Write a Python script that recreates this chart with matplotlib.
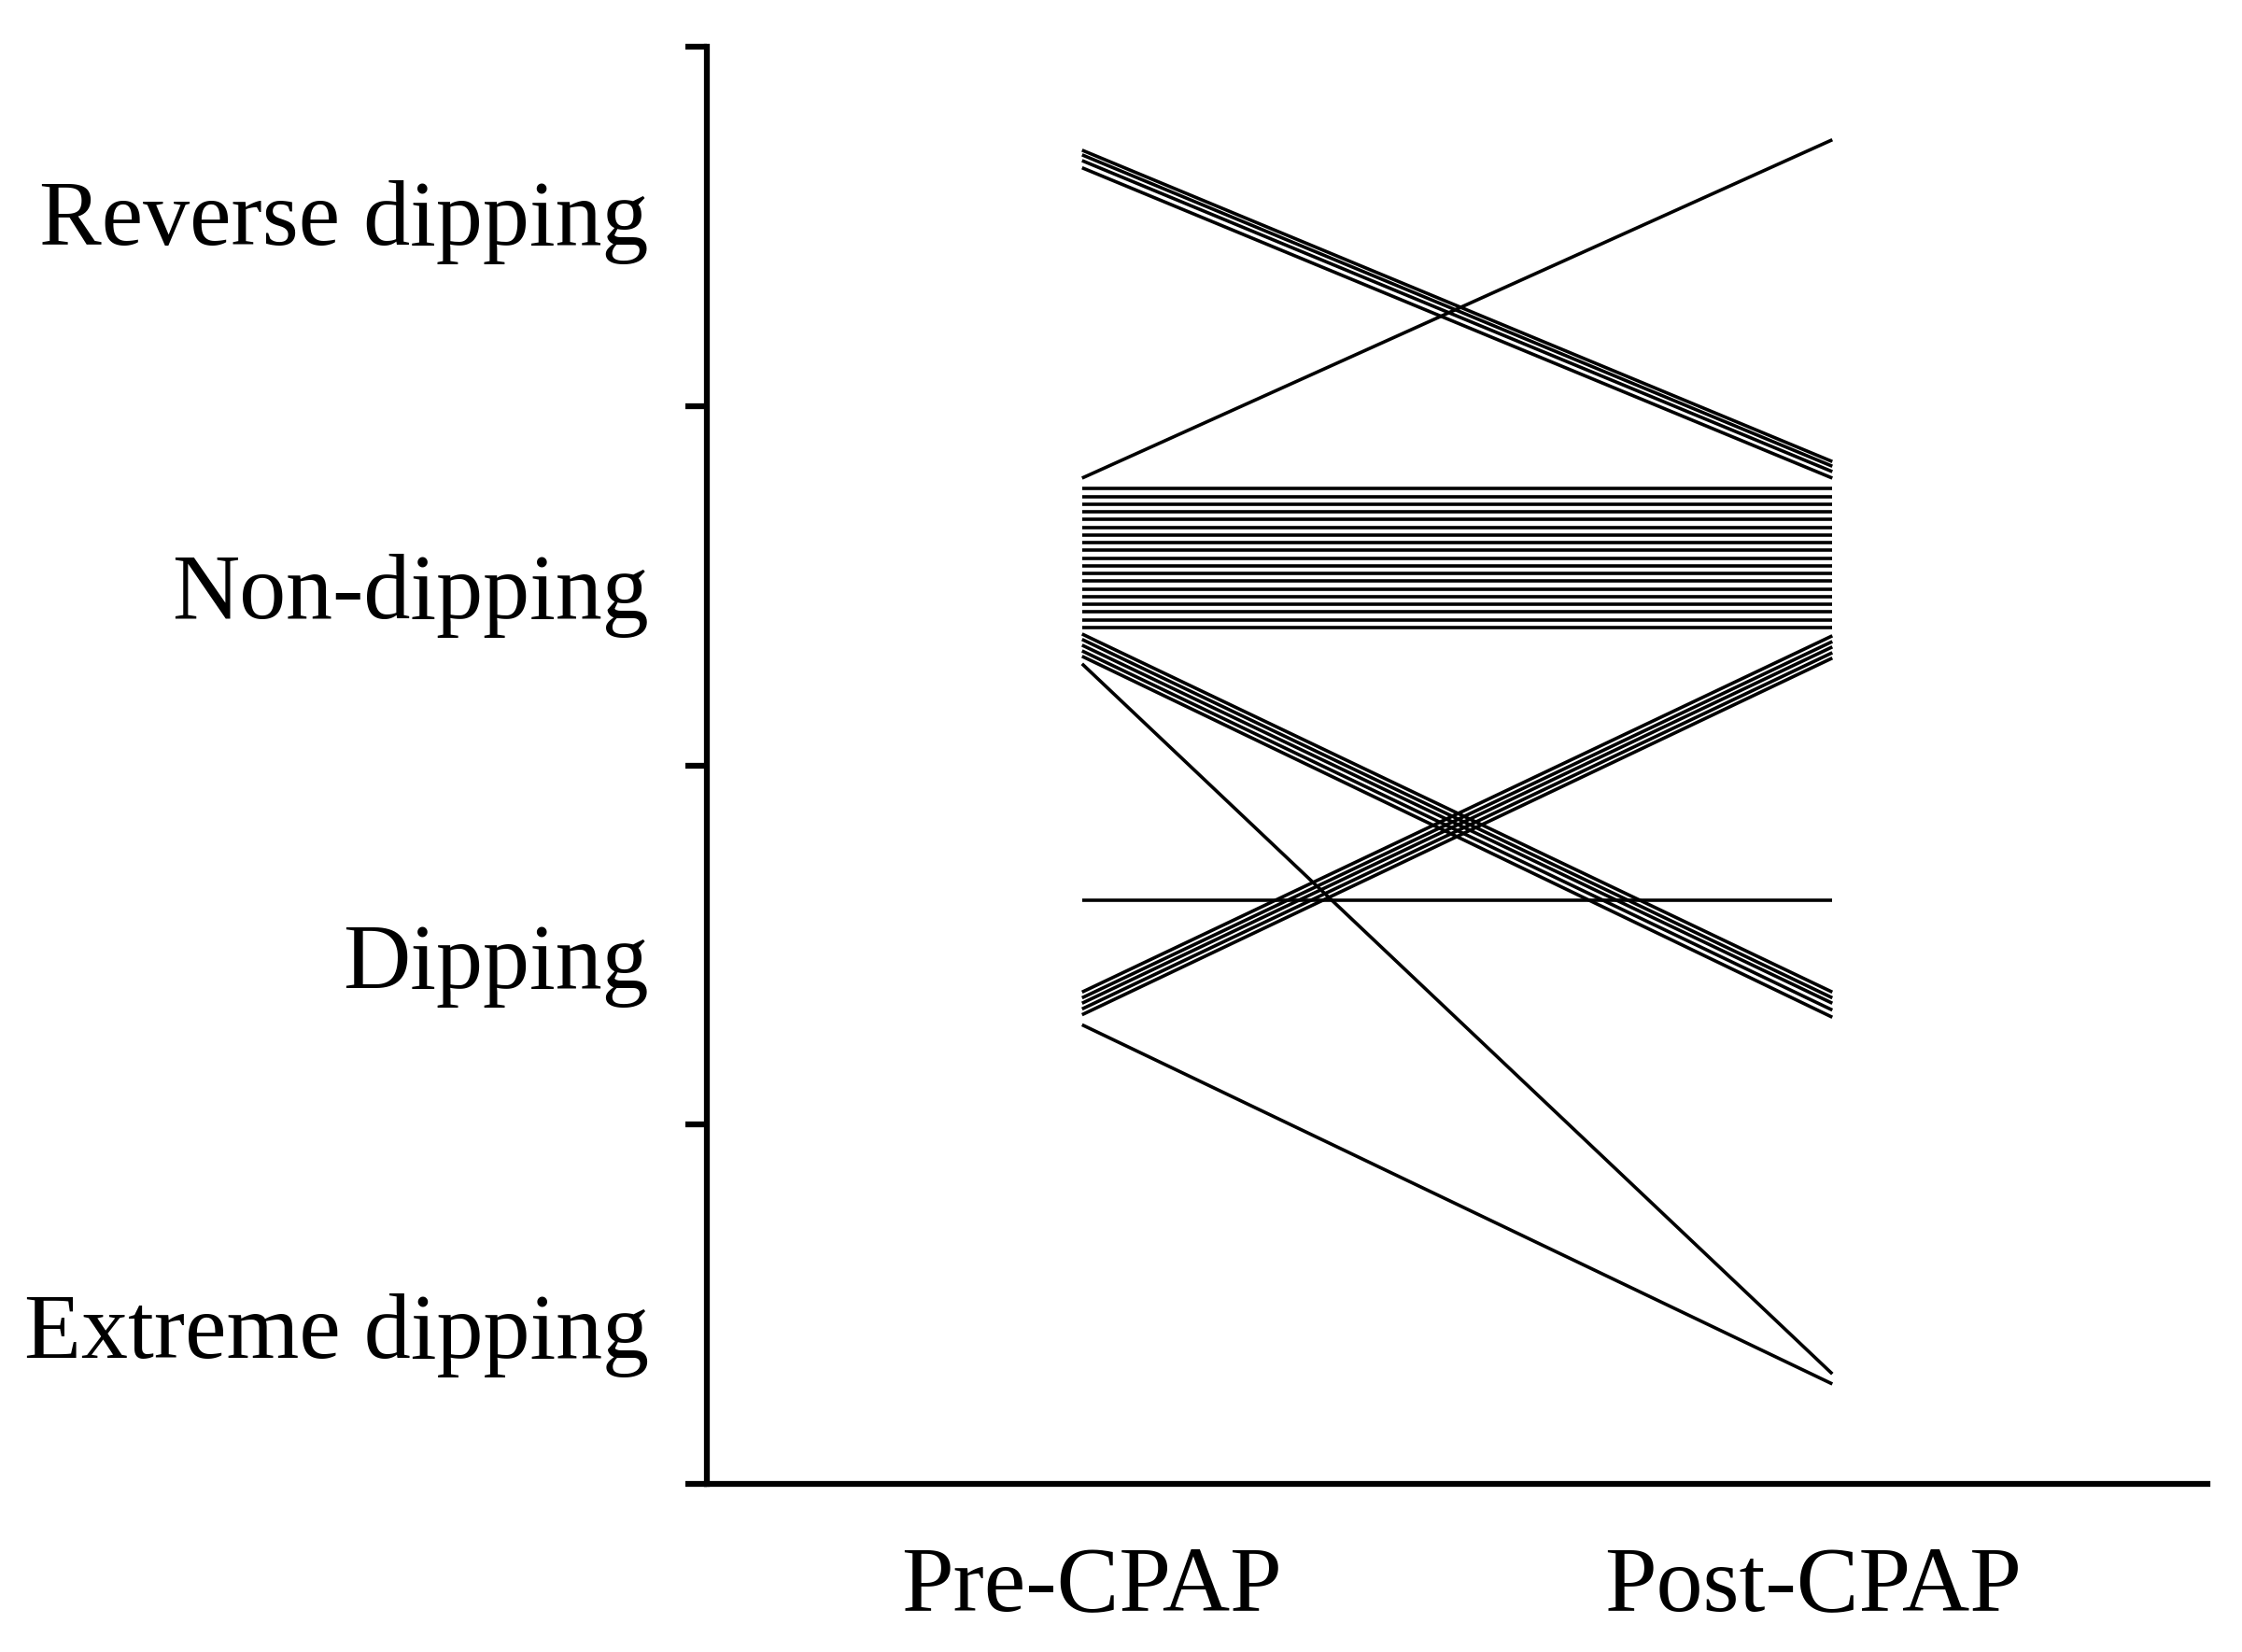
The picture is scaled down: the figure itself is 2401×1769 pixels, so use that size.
import numpy as np
import matplotlib.pyplot as plt
from matplotlib.transforms import ScaledTranslation

# Dipping status of each patient, before and after CPAP.
# Category bands on the y axis: 0-1 Extreme, 1-2 Dipping, 2-3 Non-dipping, 3-4 Reverse
categories = ['Extreme dipping', 'Dipping', 'Non-dipping', 'Reverse dipping']
time_points = ['Pre-CPAP', 'Post-CPAP']

# reverse -> non-dipping
rev_to_non_pre = [3.713, 3.700, 3.684, 3.664]
rev_to_non_post = [2.846, 2.833, 2.818, 2.800]

# non-dipping -> reverse
non_to_rev_pre = [2.800]
non_to_rev_post = [3.742]

# non-dipping -> non-dipping
non_to_non_pre = [2.771, 2.749, 2.728, 2.706, 2.685, 2.663, 2.642, 2.620, 2.599, 2.577,
                  2.556, 2.534, 2.513, 2.491, 2.470, 2.448, 2.427, 2.405, 2.384]
non_to_non_post = [2.771, 2.749, 2.728, 2.706, 2.685, 2.663, 2.642, 2.620, 2.599, 2.577,
                   2.556, 2.534, 2.513, 2.491, 2.470, 2.448, 2.427, 2.405, 2.384]

# non-dipping -> dipping
non_to_dip_pre = [2.366, 2.351, 2.335, 2.319, 2.304]
non_to_dip_post = [1.369, 1.353, 1.338, 1.319, 1.299]

# non-dipping -> extreme
non_to_ext_pre = [2.283]
non_to_ext_post = [0.306]

# dipping -> non-dipping
dip_to_non_pre = [1.369, 1.353, 1.338, 1.322, 1.306]
dip_to_non_post = [2.361, 2.345, 2.330, 2.314, 2.299]

# dipping -> dipping
dip_to_dip_pre = [1.626]
dip_to_dip_post = [1.626]

# dipping -> extreme
dip_to_ext_pre = [1.278]
dip_to_ext_post = [0.278]

pre = (rev_to_non_pre + non_to_rev_pre + non_to_non_pre + non_to_dip_pre
       + non_to_ext_pre + dip_to_non_pre + dip_to_dip_pre + dip_to_ext_pre)
post = (rev_to_non_post + non_to_rev_post + non_to_non_post + non_to_dip_post
        + non_to_ext_post + dip_to_non_post + dip_to_dip_post + dip_to_ext_post)

plt.rcParams['font.family'] = ['Liberation Serif', 'DejaVu Serif']

fig = plt.figure(figsize=(24.01, 17.69), dpi=100, facecolor='white')
ax = fig.add_axes([0.3153, 0.1018, 0.6693, 0.8697])

x = [1, 2]
for p0, p1 in zip(pre, post):
    ax.plot(x, [p0, p1], color='black', linewidth=2.6, solid_capstyle='butt')

ax.set_xlim(0.5, 2.5)
ax.set_ylim(0, 4)

# spines: only left and bottom, thick
for side in ['top', 'right']:
    ax.spines[side].set_visible(False)
for side in ['left', 'bottom']:
    ax.spines[side].set_linewidth(4.5)
    ax.spines[side].set_capstyle('projecting')

# major ticks mark the category boundaries, labels sit on minor ticks
# (the labels in the original are spread slightly wider than the bands)
ax.set_yticks(np.arange(0, 5, 1))
ax.set_yticklabels([])
ax.set_yticks([0.44, 1.47, 2.5, 3.54], minor=True)
ax.set_yticklabels(categories, minor=True, fontsize=72)
ax.tick_params(axis='y', which='major', length=16.5, width=4.5, direction='out')
ax.tick_params(axis='y', which='minor', length=0, pad=45)

ax.set_xticks(x)
ax.set_xticklabels(time_points, fontsize=72)
ax.tick_params(axis='x', length=0, pad=48)

# labels are not quite centred on the lines in the original
shifts = [10, -21]
for lab, dx in zip(ax.get_xticklabels(), shifts):
    lab.set_transform(lab.get_transform() + ScaledTranslation(dx / 100, 0, fig.dpi_scale_trans))

plt.savefig('out.png', dpi=100)
